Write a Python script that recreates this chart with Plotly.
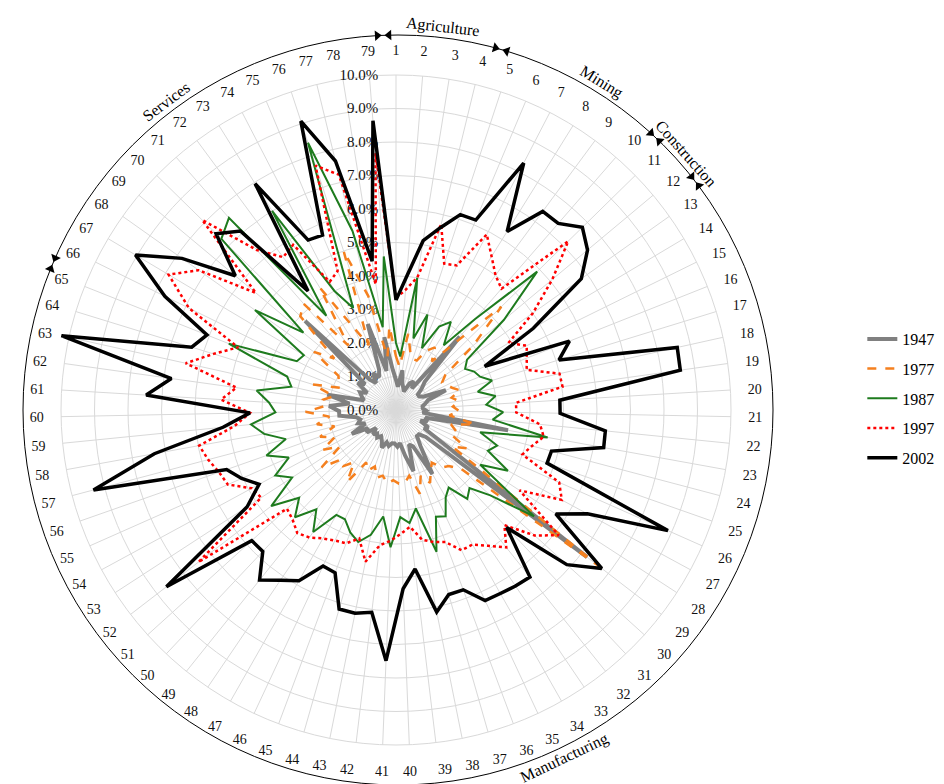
import math
import plotly.graph_objects as go

categories = [str(i) for i in range(1, 80)]

v1947 = [0.9, 0.7, 1.2, 0.8, 0.7, 0.6, 0.9, 1.0, 0.8, 2.9,
         1.2, 1.0, 0.8, 0.8, 0.9, 1.6, 1.0, 0.9, 0.8, 0.8,
         0.9, 0.8, 3.4, 0.9, 1.0, 0.8, 1.1, 1.0, 7.2, 1.2,
         1.0, 1.0, 1.3, 2.2, 1.2, 1.1, 1.9, 1.4, 1.0, 1.1,
         1.0, 1.0, 1.1, 1.0, 1.2, 1.0, 0.9, 1.0, 0.9, 1.0,
         0.8, 1.1, 1.0, 1.5, 1.0, 1.2, 1.1, 1.2, 1.7, 1.7,
         2.0, 1.4, 2.1, 1.0, 1.1, 1.2, 1.0, 1.4, 1.2, 3.8,
         1.2, 1.0, 1.3, 1.1, 1.3, 2.7, 1.2, 2.2, 1.2]

v1977 = [1.6, 1.3, 2.3, 1.8, 1.6, 1.6, 2.0, 2.2, 1.8, 2.6,
         4.4, 3.0, 1.8, 1.6, 1.7, 1.8, 2.0, 1.7, 1.9, 1.7,
         1.9, 1.6, 2.4, 1.7, 1.9, 1.8, 2.4, 2.0, 7.6, 2.6,
         2.3, 2.2, 1.9, 2.1, 2.4, 2.1, 2.6, 2.0, 2.2, 2.2,
         2.1, 2.2, 2.0, 2.1, 1.8, 2.0, 1.8, 2.6, 2.0, 2.3,
         2.2, 2.8, 2.0, 2.5, 2.0, 2.4, 1.9, 2.4, 2.0, 2.7,
         2.1, 2.2, 1.9, 2.6, 1.8, 1.9, 2.0, 3.0, 2.4, 4.0,
         4.2, 2.4, 4.3, 2.8, 2.1, 5.0, 3.5, 1.6, 2.5]

v1987 = [2.0, 1.6, 4.0, 2.2, 3.0, 2.0, 2.8, 3.1, 2.4, 3.6,
         5.9, 4.2, 2.6, 2.4, 2.6, 2.7, 3.0, 2.5, 3.0, 2.7,
         3.2, 2.9, 4.6, 2.6, 3.2, 3.0, 3.8, 3.0, 5.2, 3.8,
         3.2, 3.4, 2.8, 3.0, 3.5, 3.4, 4.4, 3.0, 3.4, 3.2,
         4.1, 3.2, 3.8, 4.1, 3.9, 3.6, 3.6, 4.4, 3.8, 4.4,
         3.9, 4.7, 3.7, 4.1, 3.5, 4.1, 3.4, 4.0, 4.35, 3.6,
         3.8, 4.2, 3.2, 3.4, 5.37, 3.3, 3.2, 5.16, 3.6, 7.3,
         7.6, 3.5, 7.0, 4.0, 3.3, 8.4, 5.5, 2.5, 4.6]

v1997 = [3.34, 3.6, 4.01, 5.71, 4.6, 4.68, 5.9, 5.4, 5.0, 4.8,
         7.2, 6.08, 5.01, 3.9, 4.35, 4.2, 4.08, 5.0, 5.02, 3.59,
         3.59, 4.32, 4.48, 4.2, 4.0, 5.33, 5.63, 4.4, 6.13, 5.58,
         4.72, 5.26, 4.9, 4.62, 4.62, 4.21, 4.1, 3.95, 3.51, 3.7,
         3.9, 4.07, 4.62, 3.99, 4.25, 4.3, 4.41, 4.6, 4.71, 4.5,
         4.39, 7.45, 4.8, 4.9, 5.49, 5.6, 5.8, 5.97, 4.85, 4.36,
         5.23, 4.81, 6.43, 5.7, 5.07, 6.89, 7.9, 7.22, 5.45, 8.1,
         6.33, 5.67, 5.81, 4.31, 4.5, 7.68, 7.23, 3.8, 7.69]

v2002 = [3.28, 4.0, 5.12, 5.6, 6.14, 6.15, 8.3, 6.28, 7.37, 7.38,
         7.79, 7.45, 6.78, 4.77, 2.95, 5.57, 5.09, 8.6, 8.57, 4.9,
         4.9, 6.28, 6.3, 4.8, 4.78, 8.88, 6.5, 5.69, 7.75, 6.88,
         4.82, 6.39, 6.35, 6.3, 6.28, 5.73, 5.73, 6.15, 4.78, 5.34,
         7.49, 6.08, 6.19, 6.18, 5.19, 5.14, 5.86, 6.14, 6.51, 5.8,
         5.81, 8.65, 5.3, 4.65, 5.04, 5.36, 9.34, 7.33, 5.19, 4.36,
         7.47, 6.77, 10.23, 6.38, 6.07, 7.69, 9.05, 7.83, 6.25, 7.52,
         7.08, 4.42, 7.96, 5.71, 5.66, 9.08, 7.65, 4.5, 8.66]

series_names = ["1947", "1977", "1987", "1997", "2002"]
series_values = [v1947, v1977, v1987, v1997, v2002]
series_colors = ["#808080", "#F5801F", "#1E7B1E", "#FF0000", "#000000"]
series_dash = ["solid", "dash", "solid", "dot", "solid"]
series_width = [4, 2.5, 2, 2.5, 3.5]

radial_tick_vals = list(range(0, 11))
radial_tick_text = ["%.1f%%" % v for v in radial_tick_vals]

sector_names = ["Agriculture", "Mining", "Construction", "Manufacturing", "Services"]
sector_bounds = [-0.5, 3.5, 9.5, 11.5, 64.3]        # boundaries, in category steps
sector_label_steps = [1.47, 6.98, 10.6, 33.9, 70.9]  # label positions, in category steps

W, H = 944, 784
CX, CY = 388, 402            # centre of the radar grid
RING_CX, RING_CY = 390, 402  # centre of the outer sector ring
PX_PER_PCT = 33.5
R_GRID = 10
R_DATA_MAX = 11.4
R_OUTER = 375
N = len(categories)
STEP = 360.0 / N
FONT = "Liberation Serif"
LEGEND_X = 0.905
LEGEND_TOP_PX = 314      # top of first legend entry, px from top
LEGEND_ROW_PX = 29.7     # spacing between legend entries, px


def domain(cx, cy, r):
    return dict(x=[(cx - r) / W, (cx + r) / W],
                y=[(H - cy - r) / H, (H - cy + r) / H])


fig = go.Figure()

# grid subplot needs a trace to be drawn (single invisible point)
fig.add_trace(go.Scatterpolar(
    r=[0], theta=[categories[0]], mode="markers", subplot="polar",
    marker=dict(size=1, opacity=0), showlegend=False, hoverinfo="skip",
))

legend_ids = ["legend", "legend2", "legend3", "legend4", "legend5"]
for name, vals, col, dash, wid, lid in zip(series_names, series_values, series_colors,
                                           series_dash, series_width, legend_ids):
    fig.add_trace(go.Scatterpolar(
        r=vals + [vals[0]], theta=categories + [categories[0]],
        mode="lines", name=name, subplot="polar3", legend=lid,
        line=dict(color=col, dash=dash, width=wid),
        cliponaxis=False,
    ))

# outer ring arrowheads at sector boundaries
arrow_theta, arrow_sym, arrow_ang = [], [], []
d = 0.9
for b in sector_bounds:
    a = b * STEP
    arrow_theta += [a - d, a + d]
    arrow_sym += ["triangle-right", "triangle-left"]
    arrow_ang += [a - d, a + d]
fig.add_trace(go.Scatterpolar(
    r=[1] * len(arrow_theta), theta=arrow_theta, mode="markers",
    subplot="polar2", showlegend=False, cliponaxis=False, hoverinfo="skip",
    marker=dict(symbol=arrow_sym, angle=arrow_ang, size=9, color="black"),
))

legend_layout = {}
for i, lid in enumerate(legend_ids):
    top_px = LEGEND_TOP_PX + i * LEGEND_ROW_PX
    legend_layout[lid] = dict(
        x=LEGEND_X, y=(H - top_px) / H, xanchor="left", yanchor="top",
        font=dict(family=FONT, size=16, color="black"),
        bgcolor="rgba(0,0,0,0)",
    )

fig.update_layout(
    width=W, height=H,
    margin=dict(l=0, r=0, t=0, b=0),
    paper_bgcolor="white",
    font=dict(family=FONT, color="black"),
    polar=dict(
        domain=domain(CX, CY, R_GRID * PX_PER_PCT),
        bgcolor="white",
        angularaxis=dict(
            type="category", categoryarray=categories,
            direction="clockwise", rotation=90,
            showgrid=True, gridcolor="#d9d9d9", gridwidth=1,
            showline=True, linecolor="#d9d9d9", linewidth=1,
            ticks="outside", ticklen=14, tickcolor="rgba(0,0,0,0)",
            tickfont=dict(family=FONT, size=14, color="#111"),
        ),
        radialaxis=dict(
            range=[0, R_GRID], angle=90, side="counterclockwise",
            tickvals=radial_tick_vals, ticktext=radial_tick_text,
            tickangle=90, showline=False,
            ticks="outside", ticklen=12, tickcolor="rgba(0,0,0,0)",
            showgrid=True, gridcolor="#d9d9d9", gridwidth=1,
            tickfont=dict(family=FONT, size=15, color="#111"),
        ),
    ),
    polar2=dict(
        domain=domain(RING_CX, RING_CY, R_OUTER),
        bgcolor="rgba(0,0,0,0)",
        angularaxis=dict(
            direction="clockwise", rotation=90, thetaunit="degrees",
            showgrid=False, showline=True, linecolor="black", linewidth=1,
            showticklabels=False, ticks="",
        ),
        radialaxis=dict(visible=False, range=[0, 1]),
    ),
    polar3=dict(
        domain=domain(CX, CY, R_DATA_MAX * PX_PER_PCT),
        bgcolor="rgba(0,0,0,0)",
        angularaxis=dict(
            type="category", categoryarray=categories,
            direction="clockwise", rotation=90, visible=False,
        ),
        radialaxis=dict(range=[0, R_DATA_MAX], visible=False),
    ),
    showlegend=True,
    **legend_layout,
)

annotations = []
R_LAB = 386
for name, s in zip(sector_names, sector_label_steps):
    a = s * STEP
    rad = math.radians(a)
    px = RING_CX + R_LAB * math.sin(rad)
    py = RING_CY - R_LAB * math.cos(rad)
    ang = a % 360
    if 90 < ang < 270:
        ta = ang - 180
    elif ang >= 270:
        ta = ang - 360
    else:
        ta = ang
    annotations.append(dict(
        x=px / W, y=(H - py) / H, xref="paper", yref="paper",
        text=name, showarrow=False, textangle=ta,
        xanchor="center", yanchor="middle",
        font=dict(family=FONT, size=16, color="black"),
    ))
fig.update_layout(annotations=annotations)

fig.write_html("out.html")
